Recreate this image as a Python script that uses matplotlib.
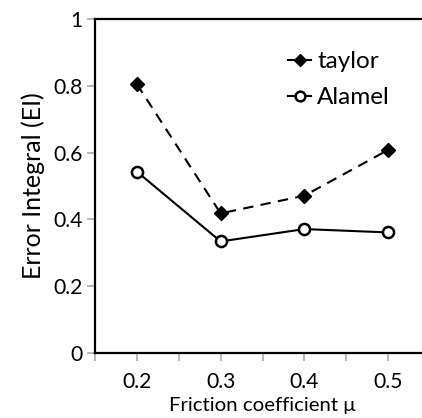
import matplotlib.pyplot as plt
from matplotlib.lines import Line2D

plt.rcParams['font.family'] = ['Lato', 'DejaVu Sans']

# friction coefficient values and error integral per model
mu = [0.2, 0.3, 0.4, 0.5]
taylor = [0.805, 0.418, 0.471, 0.608]
alamel = [0.543, 0.334, 0.371, 0.361]
y_ticks = [0, 0.2, 0.4, 0.6, 0.8, 1]
y_tick_labels = ['0', '0.2', '0.4', '0.6', '0.8', '1']

fig = plt.figure(figsize=(4.22, 4.18), dpi=100)
# the right edge of the plot is cut off in the original
ax = fig.add_axes([95/422, 65/418, 335/422, 334/418])

ax.plot(mu, taylor, color='black', lw=1.5, ls=(0, (5, 3.5)), marker='D', ms=7,
        mfc='black', mec='black', clip_on=False)
ax.plot(mu, alamel, color='black', lw=1.5, marker='o', ms=8,
        mfc='white', mec='black', mew=1.8, clip_on=False)

ax.set_xlim(0.15, 0.55)
ax.set_ylim(0, 1)
ax.set_xticks(mu)
ax.set_xticks([0.15, 0.25, 0.35, 0.45], minor=True)
ax.set_yticks(y_ticks)
ax.set_yticklabels(y_tick_labels)

for s in ['left', 'top', 'bottom', 'right']:
    ax.spines[s].set_linewidth(1.6)
    ax.spines[s].set_color('black')

ax.tick_params(axis='both', which='both', color='#aaaaaa', length=6, width=1.2,
               direction='out', labelsize=15.2, pad=3)
ax.tick_params(axis='x', pad=8)

ax.set_xlabel('Friction coefficient μ', fontsize=14.7, labelpad=3)
ax.set_ylabel('Error Integral (EI)', fontsize=18, labelpad=6)

handles = [Line2D([], [], color='black', lw=1.5, marker='D', ms=6),
           Line2D([], [], color='black', lw=1.5, marker='o', ms=7,
                  mfc='white', mew=1.8)]
fig.legend(handles, ['taylor', 'Alamel'], loc='upper left',
           bbox_to_anchor=(0.683, 0.877), bbox_transform=fig.transFigure,
           frameon=False, fontsize=17.5, handlelength=0.95, handletextpad=0.25,
           labelspacing=0.6, borderpad=0, borderaxespad=0)

fig.savefig('out.png', dpi=100)
